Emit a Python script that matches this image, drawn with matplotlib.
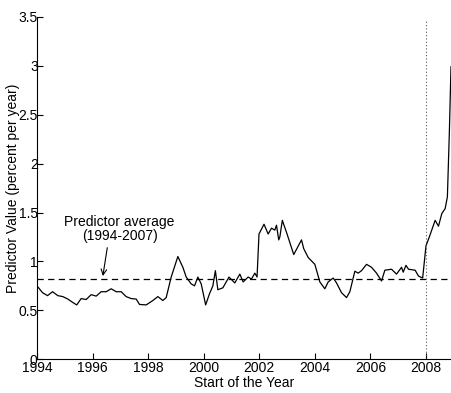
import numpy as np
import matplotlib.pyplot as plt

plt.rcParams['font.family'] = ['Liberation Sans', 'DejaVu Sans']

# predictor series (decimal year, percent per year)
years = [1994.00, 1994.20, 1994.38, 1994.56, 1994.75, 1994.93, 1995.11, 1995.29,
         1995.43, 1995.59, 1995.77, 1995.95, 1996.13, 1996.31, 1996.49, 1996.67,
         1996.85, 1997.03, 1997.21, 1997.39, 1997.57, 1997.69, 1997.93, 1998.17,
         1998.35, 1998.53, 1998.65, 1998.83, 1999.07, 1999.25, 1999.37, 1999.55,
         1999.67, 1999.79, 1999.91, 2000.07, 2000.21, 2000.33, 2000.42, 2000.51,
         2000.69, 2000.91, 2001.12, 2001.30, 2001.42, 2001.60, 2001.72, 2001.84,
         2001.92, 2001.99, 2002.17, 2002.32, 2002.44, 2002.56, 2002.62, 2002.70,
         2002.74, 2002.83, 2003.00, 2003.24, 2003.52, 2003.60, 2003.76, 2004.00,
         2004.18, 2004.36, 2004.48, 2004.66, 2004.78, 2004.96, 2005.14, 2005.26,
         2005.44, 2005.56, 2005.68, 2005.86, 2006.04, 2006.22, 2006.40, 2006.52,
         2006.76, 2006.94, 2007.12, 2007.18, 2007.28, 2007.37, 2007.61, 2007.73,
         2007.88, 2008.00, 2008.12, 2008.33, 2008.45, 2008.57, 2008.69, 2008.77,
         2008.84, 2008.90]
values = [0.75, 0.68, 0.65, 0.69, 0.65, 0.64, 0.615, 0.58,
          0.555, 0.62, 0.61, 0.66, 0.645, 0.69, 0.69, 0.72,
          0.69, 0.69, 0.64, 0.62, 0.615, 0.56, 0.555, 0.60,
          0.64, 0.60, 0.63, 0.84, 1.05, 0.94, 0.84, 0.77,
          0.75, 0.84, 0.77, 0.555, 0.67, 0.75, 0.905, 0.71,
          0.73, 0.84, 0.78, 0.87, 0.79, 0.84, 0.82, 0.88,
          0.84, 1.28, 1.38, 1.28, 1.34, 1.32, 1.37, 1.22,
          1.25, 1.42, 1.28, 1.07, 1.22, 1.13, 1.04, 0.97,
          0.79, 0.72, 0.79, 0.83, 0.78, 0.68, 0.63, 0.69,
          0.90, 0.88, 0.905, 0.97, 0.94, 0.88, 0.80, 0.91,
          0.92, 0.87, 0.94, 0.89, 0.96, 0.92, 0.91, 0.85,
          0.83, 1.16, 1.25, 1.42, 1.36, 1.49, 1.54, 1.66,
          2.31, 2.99]

avg_value = 0.82
split_year = 2008
xticks = [1994, 1996, 1998, 2000, 2002, 2004, 2006, 2008]
yticks = [0, 0.5, 1, 1.5, 2, 2.5, 3, 3.5]
ytick_labels = ['0', '0.5', '1', '1.5', '2', '2.5', '3', '3.5']

fig = plt.figure(figsize=(4.51, 3.93), dpi=100)
ax = fig.add_axes([0.082, 0.086, 0.918, 0.871])

ax.plot(years, values, color='black', lw=0.9)
ax.axhline(avg_value, color='black', lw=0.9, ls=(0, (5, 3.5)))
ax.axvline(split_year, color='#555555', lw=0.8, ls=(0, (1, 2)), ymax=0.995)

# label and arrow for the average line
ax.text(1996.97, 1.33, 'Predictor average\n(1994-2007)', ha='center', va='center',
        fontsize=10, linespacing=1.05)
ax.annotate('', xy=(1996.37, 0.85), xytext=(1996.53, 1.14),
            arrowprops=dict(arrowstyle='->', color='black', lw=0.8,
                            shrinkA=0, shrinkB=0))

ax.set_xlim(1994, 2008.9)
ax.set_ylim(0, 3.5)
ax.set_xticks(xticks)
ax.set_yticks(yticks)
ax.set_yticklabels(ytick_labels)
ax.tick_params(direction='in', length=4, labelsize=10)
ax.tick_params(axis='x', pad=1)
ax.tick_params(axis='y', pad=-0.5)
ax.spines['top'].set_visible(False)
ax.spines['right'].set_visible(False)
ax.set_xlabel('Start of the Year', fontsize=10, labelpad=1)
ax.set_ylabel('Predictor Value (percent per year)', fontsize=10, labelpad=-1)

fig.savefig('out.png', dpi=100)
